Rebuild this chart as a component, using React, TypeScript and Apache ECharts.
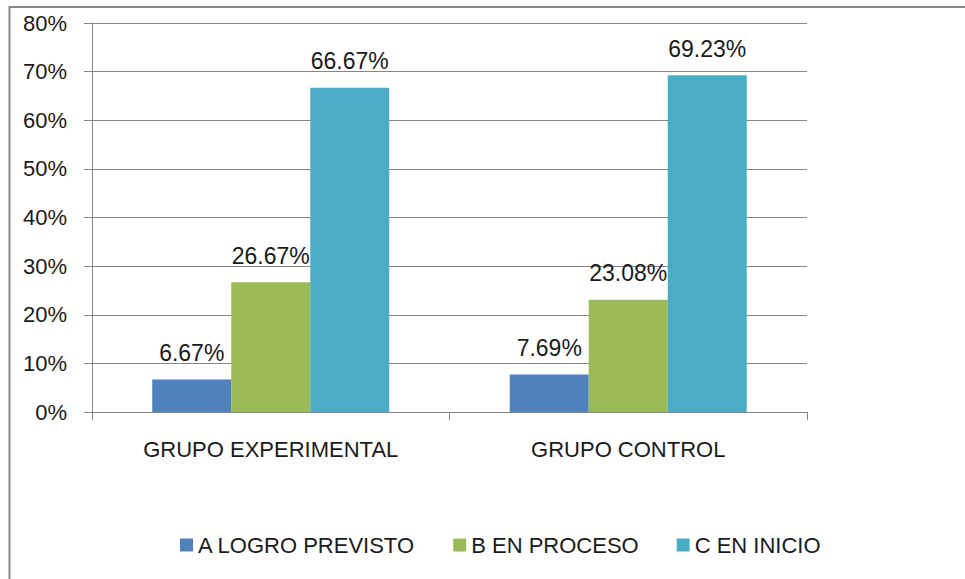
import React, { useEffect, useRef } from "react";
import * as echarts from "echarts";

const categories = ["GRUPO EXPERIMENTAL", "GRUPO CONTROL"];
const seriesNames = ["A LOGRO PREVISTO", "B EN PROCESO", "C EN INICIO"];
const valuesA = [6.67, 7.69];
const valuesB = [26.67, 23.08];
const valuesC = [66.67, 69.23];
const colors = ["#4F81BD", "#9BBB59", "#4BACC6"];

const FONT = "'Liberation Sans', Arial, sans-serif";
const TEXT = "#1a1a1a";
const LINE = "#868686";

export default function App() {
  const ref = useRef<HTMLDivElement>(null);
  useEffect(() => {
    if (!ref.current) return;
    const chart = echarts.init(ref.current, null, { renderer: "svg" });
    const seriesData = [valuesA, valuesB, valuesC];
    chart.setOption({
      animation: false,
      textStyle: { fontFamily: FONT },
      graphic: [
        {
          type: "rect",
          shape: { x: 9.5, y: 7, width: 1200, height: 1200 },
          style: { fill: "none", stroke: "#878787", lineWidth: 2 },
          silent: true,
        },
      ],
      grid: { left: 92, top: 23, right: 158, bottom: 167 },
      legend: {
        data: seriesNames,
        left: 180,
        top: 534,
        padding: 0,
        icon: "rect",
        itemWidth: 13,
        itemHeight: 13,
        itemGap: 38,
        textStyle: { fontFamily: FONT, fontSize: 22, color: TEXT },
      },
      xAxis: {
        type: "category",
        data: categories,
        axisLine: { lineStyle: { color: LINE, width: 1 } },
        axisTick: { show: true, length: 8, interval: 0, alignWithLabel: false, lineStyle: { color: LINE } },
        axisLabel: { fontFamily: FONT, fontSize: 22, color: TEXT, margin: 26 },
      },
      yAxis: {
        type: "value",
        min: 0,
        max: 80,
        interval: 10,
        axisLine: { show: true, lineStyle: { color: LINE, width: 1 } },
        axisTick: { show: true, length: 8, lineStyle: { color: LINE } },
        splitLine: { show: true, lineStyle: { color: LINE, width: 1 } },
        axisLabel: { formatter: "{value}%", fontFamily: FONT, fontSize: 22, color: TEXT, margin: 25 },
      },
      series: seriesNames.map((name, i) => ({
        name,
        type: "bar",
        data: seriesData[i],
        barGap: "0%",
        barCategoryGap: "33.7%",
        itemStyle: { color: colors[i] },
        label: {
          show: true,
          position: "top",
          distance: 15,
          fontFamily: FONT,
          fontSize: 23,
          color: TEXT,
          formatter: (p: any) => `${Number(p.value).toFixed(2)}%`,
        },
      })),
    });
    return () => chart.dispose();
  }, []);
  return (
    <div
      ref={ref}
      style={{ position: "fixed", left: 0, top: 0, width: 965, height: 579, background: "#fff" }}
    />
  );
}
